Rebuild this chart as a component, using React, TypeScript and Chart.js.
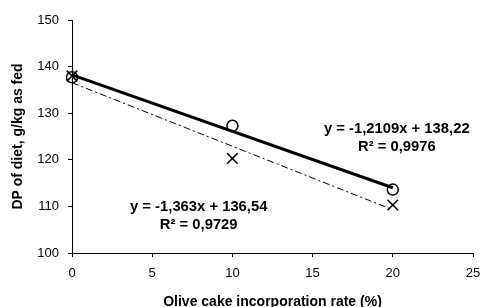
import React, { useEffect, useRef } from "react";
import { Chart, registerables } from "chart.js";

Chart.register(...registerables);

const rates = [0, 10, 20];
const dpCircle = [137.7, 127.3, 113.6];
const dpCross = [138.0, 120.3, 110.3];
const trendX = [0, 20];
const trendCircle = [138.22, 114.0];
const trendCross = [136.54, 109.28];
const xTicks = [0, 5, 10, 15, 20, 25];
const yTicks = [100, 110, 120, 130, 140, 150];
const eqCircle = ["y = -1,2109x + 138,22", "R² = 0,9976"];
const eqCross = ["y = -1,363x + 136,54", "R² = 0,9729"];

const FONT = "'Liberation Sans', Arial, sans-serif";

const labelPlugin = {
  id: "eqLabels",
  afterDatasetsDraw(chart: any) {
    const { ctx, scales } = chart;
    const xs = scales.x;
    const ys = scales.y;
    const draw = (lines: string[], xv: number, yv: number) => {
      ctx.save();
      ctx.font = `bold 14.8px ${FONT}`;
      ctx.fillStyle = "#000";
      ctx.textAlign = "center";
      ctx.textBaseline = "middle";
      const px = xs.getPixelForValue(xv);
      const py = ys.getPixelForValue(yv);
      lines.forEach((l, i) => ctx.fillText(l, px, py + i * 18));
      ctx.restore();
    };
    draw(eqCircle, 20.25, 126.6);
    draw(eqCross, 7.9, 109.9);
  },
};

export default function App() {
  const ref = useRef<HTMLCanvasElement>(null);
  useEffect(() => {
    if (!ref.current) return;
    const chart = new Chart(ref.current, {
      type: "scatter",
      data: {
        datasets: [
          {
            type: "line",
            data: trendX.map((x, i) => ({ x, y: trendCircle[i] })),
            borderColor: "#000",
            borderWidth: 3,
            pointRadius: 0,
            fill: false,
            clip: false,
          },
          {
            type: "line",
            data: trendX.map((x, i) => ({ x, y: trendCross[i] })),
            borderColor: "#000",
            borderWidth: 1,
            borderDash: [7, 3, 2, 3],
            pointRadius: 0,
            fill: false,
            clip: false,
          },
          {
            data: rates.map((x, i) => ({ x, y: dpCircle[i] })),
            pointStyle: "circle",
            pointRadius: 5.5,
            borderColor: "#000",
            backgroundColor: "rgba(0,0,0,0)",
            borderWidth: 1.5,
            clip: false,
          },
          {
            data: rates.map((x, i) => ({ x, y: dpCross[i] })),
            pointStyle: "crossRot",
            pointRadius: 7.5,
            borderColor: "#000",
            borderWidth: 1.5,
            clip: false,
          },
        ],
      } as any,
      options: {
        animation: false,
        responsive: false,
        layout: { padding: { top: 20, right: 9, left: 0, bottom: 0 } },
        plugins: { legend: { display: false }, tooltip: { enabled: false } },
        scales: {
          x: {
            type: "linear",
            min: 0,
            max: 25,
            afterBuildTicks: (s: any) => {
              s.ticks = xTicks.map((v) => ({ value: v }));
            },
            afterFit: (s: any) => {
              s.height = 54;
              s.paddingLeft = 0;
              s.paddingRight = 0;
            },
            ticks: { color: "#000", font: { family: FONT, size: 13 }, padding: 9 },
            grid: { display: true, drawOnChartArea: false, drawTicks: true, tickLength: 4, color: "#000" },
            border: { display: true, color: "#000", width: 1 },
            title: {
              display: true,
              text: "Olive cake incorporation rate (%)",
              color: "#000",
              font: { family: FONT, size: 14, weight: "bold" },
              padding: { top: 0, bottom: -3.5 },
            },
          },
          y: {
            type: "linear",
            min: 100,
            max: 150,
            afterBuildTicks: (s: any) => {
              s.ticks = yTicks.map((v) => ({ value: v }));
            },
            afterFit: (s: any) => {
              s.width = 72;
              s.paddingTop = 0;
              s.paddingBottom = 0;
            },
            ticks: { color: "#000", font: { family: FONT, size: 13 }, padding: 9 },
            grid: { display: true, drawOnChartArea: false, drawTicks: true, tickLength: 4, color: "#000" },
            border: { display: true, color: "#000", width: 1 },
            title: {
              display: true,
              text: "DP of diet, g/kg as fed",
              color: "#000",
              font: { family: FONT, size: 14, weight: "bold" },
              padding: { top: 9.6, bottom: 0 },
            },
          },
        },
      } as any,
      plugins: [labelPlugin],
    });
    return () => chart.destroy();
  }, []);
  return (
    <div style={{ position: "fixed", left: 0, top: 0, width: 482, height: 307, background: "#fff" }}>
      <canvas ref={ref} width={482} height={307} />
    </div>
  );
}
